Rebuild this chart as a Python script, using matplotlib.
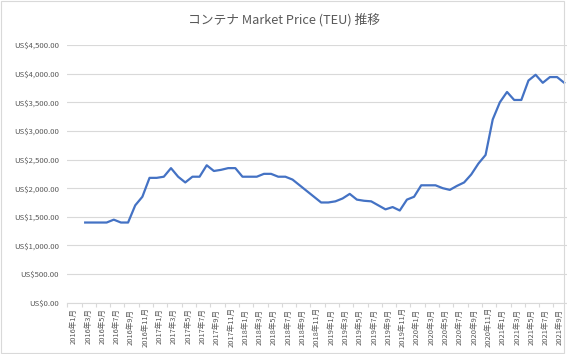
import matplotlib
matplotlib.use("Agg")
import matplotlib.pyplot as plt
import matplotlib.transforms as mtransforms
from matplotlib.patches import Rectangle
import numpy as np

plt.rcParams['font.family'] = ['Noto Sans CJK JP', 'DejaVu Sans']

# Months 2016-01 .. 2021-10
months = [f"{y}年{m}月" for y in range(2016, 2022) for m in range(1, 13)][:70]

prices = [np.nan, np.nan,
          1400, 1400, 1400, 1400, 1450, 1400, 1400, 1700, 1850,   # 2016-03 .. 2016-11
          2180, 2180, 2200, 2350, 2200, 2100, 2200, 2200, 2400, 2300, 2320, 2350, 2350,  # 2016-12 .. 2017-12
          2200, 2200, 2200, 2250, 2250, 2200, 2200, 2150, 2050, 1950, 1850, 1750,  # 2018
          1750, 1770, 1820, 1900, 1800, 1780, 1770, 1700, 1630, 1670, 1610, 1800,  # 2019
          1850, 2050, 2050, 2050, 2000, 1970, 2040, 2100, 2240, 2430, 2580, 3200,  # 2020
          3500, 3680, 3540, 3540, 3880, 3980, 3840, 3940, 3940, 3840]              # 2021-01 .. 2021-10

yticks = [0, 500, 1000, 1500, 2000, 2500, 3000, 3500, 4000, 4500]
title = "コンテナ Market Price (TEU) 推移"

W, H = 567, 354
fig = plt.figure(figsize=(W / 100, H / 100), dpi=100)
fig.patch.set_facecolor("white")

left, right, top, bottom = 67.3, 567.8, 45.0, 302.7
ax = fig.add_axes([left / W, (H - bottom) / H, (right - left) / W, (bottom - top) / H])

x = np.arange(len(months))
ax.plot(x, prices, color="#4472C4", linewidth=1.6, solid_joinstyle="round")

ax.set_xlim(-0.5, len(months) - 0.5)
ax.set_ylim(0, 4500)

grey = "#D9D9D9"
text_col = "#595959"

ax.set_yticks(yticks)
ax.set_yticklabels([f"US${v:,.2f}" for v in yticks])
ax.tick_params(axis="y", length=0, pad=6, labelsize=5.6, labelcolor=text_col)
ax.yaxis.grid(True, color=grey, linewidth=0.8)
ax.set_axisbelow(True)

for s in ["top", "right", "left"]:
    ax.spines[s].set_visible(False)
ax.spines["bottom"].set_color(grey)
ax.spines["bottom"].set_linewidth(0.8)

# tick marks at category boundaries every 2 categories
ax.set_xticks(np.arange(-0.5, len(months), 2))
ax.set_xticklabels([])
ax.tick_params(axis="x", direction="out", length=3, color=grey, width=0.8)

trans = mtransforms.blended_transform_factory(ax.transData, ax.transAxes)
offset = mtransforms.ScaledTranslation(3 / 100, 0, fig.dpi_scale_trans)
for i in range(0, len(months), 2):
    ax.text(i, -0.0924, months[i], rotation=90, ha="center", va="center",
            fontsize=5.4, color=text_col, transform=trans + offset)

fig.text(283.5 / W, 1 - 20 / H, title, ha="center", va="center",
         fontsize=9.2, color=text_col)

fig.add_artist(Rectangle((0.5 / W, 1.5 / H), 563.5 / W, 351.5 / H, transform=fig.transFigure,
                         fill=False, edgecolor=grey, linewidth=0.8))

fig.savefig("out.png", dpi=100)
